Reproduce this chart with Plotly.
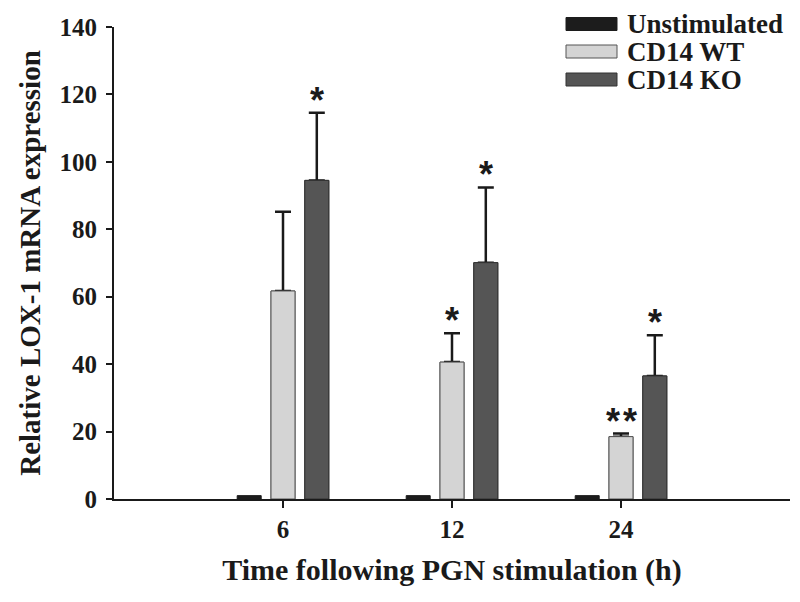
import plotly.graph_objects as go

# ---------------- data ----------------
times = ["6", "12", "24"]
series_names = ["Unstimulated", "CD14 WT", "CD14 KO"]
unstim_mean = [1.0, 1.0, 1.0]
wt_mean = [61.7, 40.6, 18.5]
wt_err = [23.5, 8.6, 0.9]
ko_mean = [94.5, 70.1, 36.5]
ko_err = [20.1, 22.3, 12.1]
wt_sig = ["", "*", "**"]
ko_sig = ["*", "*", "*"]
y_ticks = [0, 20, 40, 60, 80, 100, 120, 140]

# ---------------- style ----------------
# page body has an 8px default margin, so the figure is 8px smaller
W, H = 792, 594
L, R, T, B = 106, 10, 19, 103
BARGAP = 0.4
BARGROUPGAP = 0.29
INK = "#1a1a1a"
SERIF = dict(family="Liberation Serif, Times New Roman, serif", weight="bold", color=INK)
colors = ["#1c1c1c", "#d4d4d4", "#555555"]
outlines = ["#1c1c1c", "#555555", "#333333"]

means = [unstim_mean, wt_mean, ko_mean]
errs = [None, wt_err, ko_err]
sigs = [None, wt_sig, ko_sig]

fig = go.Figure()
# bars with upward error bars
for k in range(3):
    kw = {}
    if errs[k] is not None:
        kw["error_y"] = dict(type="data", symmetric=False, array=errs[k],
                             arrayminus=[0] * len(errs[k]), color=INK,
                             thickness=2.5, width=8)
    fig.add_trace(go.Bar(x=times, y=means[k], name=series_names[k],
                         offsetgroup=str(k), showlegend=False,
                         marker=dict(color=colors[k], line=dict(color=outlines[k], width=1)),
                         **kw))
# overlay identical bars so only the upper half of the error bar shows
for k in (1, 2):
    fig.add_trace(go.Bar(x=times, y=means[k], name=series_names[k],
                         offsetgroup=str(k), showlegend=False, hoverinfo="skip",
                         marker=dict(color=colors[k], line=dict(color=outlines[k], width=1))))

# significance stars
slot = (1 - BARGAP) / 3
annotations = []
for k in (1, 2):
    for i, s in enumerate(sigs[k]):
        if not s:
            continue
        annotations.append(dict(x=i + (k - 1) * slot, y=means[k][i] + errs[k][i],
                                xref="x", yref="y", text="\u200a".join(s), showarrow=False,
                                yanchor="bottom", xanchor="center", yshift=-10,
                                font=dict(family="Liberation Sans, Arial, sans-serif",
                                          size=36, weight="bold", color=INK)))

# legend (swatches + labels in paper coordinates; pixel values in page coords)
OFF = 8
pw, ph = W - L - R, H - T - B
def px(x):
    return (x - OFF - L) / pw
def py(y):
    return (H - B - (y - OFF)) / ph

shapes = []
row_y = [24, 51.5, 79.5]
for k in range(3):
    yc = row_y[k]
    shapes.append(dict(type="rect", xref="paper", yref="paper",
                       x0=px(566), x1=px(617), y0=py(yc + 6.5), y1=py(yc - 6.5),
                       fillcolor=colors[k], line=dict(color=outlines[k], width=1)))
    annotations.append(dict(x=px(625), y=py(yc), xref="paper", yref="paper",
                            text=series_names[k], showarrow=False,
                            xanchor="left", yanchor="middle",
                            font=dict(SERIF, size=27)))

fig.update_layout(
    template="none",
    width=W, height=H,
    margin=dict(l=L, r=R, t=T, b=B, pad=0),
    barmode="group", bargap=BARGAP, bargroupgap=BARGROUPGAP,
    plot_bgcolor="white", paper_bgcolor="white",
    showlegend=False,
    annotations=annotations, shapes=shapes,
    xaxis=dict(type="category", range=[-1, 3], showgrid=False, zeroline=False,
               showline=True, linecolor=INK, linewidth=2,
               ticks="outside", ticklen=7, tickwidth=2, tickcolor=INK,
               tickfont=dict(SERIF, size=25), ticklabelstandoff=0,
               automargin=False,
               title=dict(text="Time following PGN stimulation (h)",
                          font=dict(SERIF, size=30), standoff=17)),
    yaxis=dict(range=[0, 140], tickvals=y_ticks, showgrid=False, zeroline=False,
               showline=True, linecolor=INK, linewidth=2,
               ticks="outside", ticklen=6, tickwidth=2, tickcolor=INK,
               tickfont=dict(SERIF, size=25), ticklabelstandoff=4,
               automargin=False,
               title=dict(text="Relative LOX-1 mRNA expression",
                          font=dict(SERIF, size=29), standoff=10)),
)

fig.write_html("out.html")
